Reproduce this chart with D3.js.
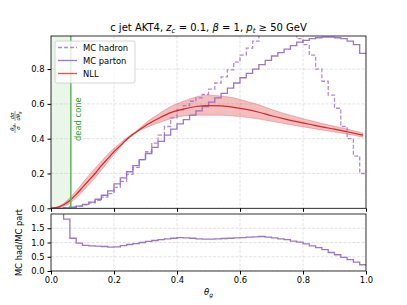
<!DOCTYPE html>
<html>
<head>
<meta charset="utf-8">
<script src="https://cdn.jsdelivr.net/npm/d3@7"></script>
<style>
  body { margin: 0; background: #fff; }
  svg { font-family: "DejaVu Sans", sans-serif; }
</style>
</head>
<body>
<div id="chart"></div>
<script>
// bin lower edges (width 0.02)
var binEdges = [0.00, 0.02, 0.04, 0.06, 0.08, 0.10, 0.12, 0.14, 0.16, 0.18,
                0.20, 0.22, 0.24, 0.26, 0.28, 0.30, 0.32, 0.34, 0.36, 0.38,
                0.40, 0.42, 0.44, 0.46, 0.48, 0.50, 0.52, 0.54, 0.56, 0.58,
                0.60, 0.62, 0.64, 0.66, 0.68, 0.70, 0.72, 0.74, 0.76, 0.78,
                0.80, 0.82, 0.84, 0.86, 0.88, 0.90, 0.92, 0.94, 0.96, 0.98];
var binEnd = 1.0;

var mcHadron = [0.000, 0.001, 0.004, 0.007, 0.012, 0.020, 0.031, 0.045, 0.064, 0.084,
                0.120, 0.155, 0.195, 0.235, 0.280, 0.325, 0.375, 0.420, 0.470, 0.520,
                0.565, 0.590, 0.615, 0.635, 0.655, 0.685, 0.720, 0.755, 0.795, 0.840,
                0.880, 0.920, 0.960, 1.000, 1.010, 1.020, 1.010, 1.010, 1.000, 0.975,
                0.940, 0.880, 0.800, 0.730, 0.650, 0.575, 0.470, 0.400, 0.300, 0.200];

var mcParton = [0.000, 0.000, 0.002, 0.006, 0.012, 0.022, 0.035, 0.052, 0.075, 0.100,
                0.140, 0.175, 0.210, 0.245, 0.280, 0.315, 0.350, 0.385, 0.420, 0.455,
                0.485, 0.510, 0.535, 0.560, 0.585, 0.610, 0.635, 0.660, 0.690, 0.720,
                0.750, 0.775, 0.800, 0.825, 0.850, 0.875, 0.895, 0.915, 0.935, 0.955,
                0.965, 0.975, 0.980, 0.983, 0.983, 0.980, 0.975, 0.960, 0.940, 0.890];

var ratio = [null, 5.00, 1.82, 1.15, 0.98, 0.90, 0.88, 0.87, 0.86, 0.84,
             0.85, 0.89, 0.93, 0.96, 1.00, 1.04, 1.07, 1.10, 1.13, 1.15,
             1.17, 1.16, 1.15, 1.13, 1.12, 1.12, 1.13, 1.14, 1.15, 1.16,
             1.17, 1.19, 1.20, 1.21, 1.19, 1.16, 1.13, 1.10, 1.05, 1.01,
             0.95, 0.88, 0.82, 0.75, 0.65, 0.57, 0.48, 0.40, 0.31, 0.22];

var nllTheta   = [0.00, 0.02, 0.04, 0.06, 0.08, 0.10, 0.12, 0.14, 0.16, 0.18, 0.20, 0.22, 0.24, 0.26, 0.28,
                  0.30, 0.34, 0.38, 0.42, 0.46, 0.50, 0.54, 0.58, 0.62, 0.66, 0.70, 0.74, 0.78, 0.82,
                  0.86, 0.90, 0.94, 0.99];
var nllCentral = [0.000, 0.005, 0.020, 0.045, 0.080, 0.120, 0.160, 0.200, 0.245, 0.285, 0.325, 0.360, 0.395, 0.425, 0.450,
                  0.475, 0.515, 0.550, 0.570, 0.585, 0.590, 0.588, 0.580, 0.568, 0.552, 0.532, 0.514, 0.498, 0.483,
                  0.468, 0.455, 0.440, 0.420];
var nllLow     = [0.000, 0.003, 0.012, 0.030, 0.060, 0.095, 0.135, 0.175, 0.220, 0.265, 0.310, 0.350, 0.390, 0.420, 0.445,
                  0.462, 0.490, 0.515, 0.530, 0.535, 0.535, 0.535, 0.530, 0.523, 0.513, 0.500, 0.487, 0.474, 0.462,
                  0.450, 0.438, 0.427, 0.408];
var nllHigh    = [0.000, 0.008, 0.028, 0.060, 0.100, 0.145, 0.190, 0.230, 0.270, 0.310, 0.345, 0.375, 0.405, 0.430, 0.458,
                  0.490, 0.540, 0.585, 0.615, 0.640, 0.650, 0.645, 0.635, 0.615, 0.595, 0.568, 0.545, 0.525, 0.506,
                  0.488, 0.472, 0.455, 0.433];

var deadCone = 0.063;

var xTicks = [0.0, 0.2, 0.4, 0.6, 0.8, 1.0];
var mainYTicks = [0.0, 0.2, 0.4, 0.6, 0.8];
var ratioYTicks = [0.0, 0.5, 1.0, 1.5];

var purple = "#9467bd", red = "#d62728", green = "#5cb85c";

// layout
var W = 407, H = 305;
var left = 51, right = 366;
var mainTop = 36, mainBottom = 208.3;
var ratioTop = 214, ratioBottom = 271;

var svg = d3.select("#chart").append("svg")
    .attr("width", W).attr("height", H);

var x = d3.scaleLinear().domain([0, 1]).range([left, right]);
var y = d3.scaleLinear().domain([0, 0.99]).range([mainBottom, mainTop]);
var yr = d3.scaleLinear().domain([0, 2.0]).range([ratioBottom, ratioTop]);

var defs = svg.append("defs");
defs.append("clipPath").attr("id", "clipMain").append("rect")
    .attr("x", left).attr("y", mainTop).attr("width", right - left).attr("height", mainBottom - mainTop);
defs.append("clipPath").attr("id", "clipRatio").append("rect")
    .attr("x", left).attr("y", ratioTop).attr("width", right - left).attr("height", ratioBottom - ratioTop);

// step line helper
function stepPts(vals) {
  var pts = binEdges.map(function(e, i) { return [e, vals[i]]; });
  pts.push([binEnd, vals[vals.length - 1]]);
  return pts;
}

// ---------- main panel ----------
var gMain = svg.append("g");
var plotMain = gMain.append("g").attr("clip-path", "url(#clipMain)");

// dead cone shading
plotMain.append("rect")
    .attr("x", x(0)).attr("y", mainTop)
    .attr("width", x(deadCone) - x(0)).attr("height", mainBottom - mainTop)
    .attr("fill", green).attr("fill-opacity", 0.13);

// grid
plotMain.selectAll(".gx").data(xTicks).enter().append("line")
    .attr("x1", function(d) { return x(d); }).attr("x2", function(d) { return x(d); })
    .attr("y1", mainTop).attr("y2", mainBottom)
    .attr("stroke", "#b0b0b0").attr("stroke-opacity", 0.45).attr("stroke-width", 0.8)
    .attr("stroke-dasharray", "3,1.5");
plotMain.selectAll(".gy").data(mainYTicks).enter().append("line")
    .attr("x1", left).attr("x2", right)
    .attr("y1", function(d) { return y(d); }).attr("y2", function(d) { return y(d); })
    .attr("stroke", "#b0b0b0").attr("stroke-opacity", 0.45).attr("stroke-width", 0.8)
    .attr("stroke-dasharray", "3,1.5");

// NLL band
var band = nllTheta.map(function(t, i) { return { t: t, lo: nllLow[i], hi: nllHigh[i], c: nllCentral[i] }; });
plotMain.append("path").datum(band)
    .attr("d", d3.area().curve(d3.curveMonotoneX)
      .x(function(d) { return x(d.t); })
      .y0(function(d) { return y(d.lo); })
      .y1(function(d) { return y(d.hi); }))
    .attr("fill", red).attr("fill-opacity", 0.3)
    .attr("stroke", red).attr("stroke-opacity", 0.35).attr("stroke-width", 0.8);

// histograms
var stepLine = d3.line().curve(d3.curveStepAfter)
    .defined(function(d) { return d[1] != null; })
    .x(function(d) { return x(d[0]); });

plotMain.append("path").datum(stepPts(mcParton))
    .attr("d", stepLine.y(function(d) { return y(d[1]); }))
    .attr("fill", "none").attr("stroke", purple).attr("stroke-width", 1.3).attr("stroke-opacity", 0.9);
plotMain.append("path").datum(stepPts(mcHadron))
    .attr("d", stepLine.y(function(d) { return y(d[1]); }))
    .attr("fill", "none").attr("stroke", purple).attr("stroke-width", 1.3).attr("stroke-opacity", 0.75)
    .attr("stroke-dasharray", "4,2");

// NLL central
plotMain.append("path").datum(band)
    .attr("d", d3.line().curve(d3.curveMonotoneX)
      .x(function(d) { return x(d.t); })
      .y(function(d) { return y(d.c); }))
    .attr("fill", "none").attr("stroke", red).attr("stroke-width", 1.2);

// dead cone line
plotMain.append("line")
    .attr("x1", x(deadCone)).attr("x2", x(deadCone))
    .attr("y1", mainTop).attr("y2", mainBottom)
    .attr("stroke", green).attr("stroke-width", 1.5);
plotMain.append("text")
    .attr("transform", "translate(" + (x(deadCone) + 10) + ",141) rotate(-90)")
    .attr("font-size", 8.4).attr("fill", "#2ca02c")
    .text("dead cone");

// frame
gMain.append("rect")
    .attr("x", left).attr("y", mainTop).attr("width", right - left).attr("height", mainBottom - mainTop)
    .attr("fill", "none").attr("stroke", "#000").attr("stroke-width", 0.8);

// axes
gMain.append("g").attr("transform", "translate(0," + mainBottom + ")")
    .call(d3.axisBottom(x).tickValues(xTicks).tickSize(3.5).tickFormat(""))
    .call(function(g) { g.select(".domain").remove(); });
gMain.append("g").attr("transform", "translate(" + left + ",0)")
    .call(d3.axisLeft(y).tickValues(mainYTicks).tickSize(3.5).tickPadding(3).tickFormat(d3.format(".1f")))
    .call(function(g) {
      g.select(".domain").remove();
      g.selectAll("text").attr("font-size", 8.4).attr("font-family", "DejaVu Sans").attr("fill", "#000");
    });

// main y label: theta_g/sigma dsigma/dtheta_g
var yl = gMain.append("g").attr("transform", "translate(15,122) rotate(-90)")
    .attr("font-size", 5.2).attr("fill", "#000");
function frac(g, cx, num, den) {
  var n = g.append("text").attr("x", cx).attr("y", -1.5).attr("text-anchor", "middle");
  num(n);
  g.append("line").attr("x1", cx - 5).attr("x2", cx + 5).attr("y1", 0).attr("y2", 0)
      .attr("stroke", "#000").attr("stroke-width", 0.4);
  var d = g.append("text").attr("x", cx).attr("y", 5).attr("text-anchor", "middle");
  den(d);
}
frac(yl, -6, function(t) {
  t.append("tspan").attr("font-style", "italic").text("θ");
  t.append("tspan").attr("font-style", "italic").attr("font-size", 3.8).attr("dy", 1).text("g");
}, function(t) { t.append("tspan").attr("font-style", "italic").text("σ"); });
frac(yl, 6, function(t) {
  t.append("tspan").attr("font-style", "italic").text("dσ");
}, function(t) {
  t.append("tspan").attr("font-style", "italic").text("dθ");
  t.append("tspan").attr("font-style", "italic").attr("font-size", 3.8).attr("dy", 1).text("g");
});

// title
var title = svg.append("text").attr("x", (left + right) / 2).attr("y", 31)
    .attr("text-anchor", "middle").attr("font-size", 10).attr("fill", "#000");
title.append("tspan").text("c jet AKT4, ");
title.append("tspan").attr("font-style", "italic").text("z");
title.append("tspan").attr("font-style", "italic").attr("font-size", 7).attr("dy", 2).text("c");
title.append("tspan").attr("dy", -2).text(" = 0.1, ");
title.append("tspan").attr("font-style", "italic").text("β");
title.append("tspan").text(" = 1, ");
title.append("tspan").attr("font-style", "italic").text("p");
title.append("tspan").attr("font-style", "italic").attr("font-size", 7).attr("dy", 2).text("t");
title.append("tspan").attr("dy", -2).text(" ≥ 50 GeV");

// legend
var leg = gMain.append("g");
leg.append("rect").attr("x", 55).attr("y", 41).attr("width", 80).attr("height", 42).attr("rx", 2)
    .attr("fill", "#fff").attr("fill-opacity", 0.8).attr("stroke", "#ccc").attr("stroke-width", 0.8);
var legItems = [
  { label: "MC hadron", color: purple, dash: "4,2", op: 0.75 },
  { label: "MC parton", color: purple, dash: null, op: 0.9 },
  { label: "NLL", color: red, dash: null, op: 0.8 }
];
legItems.forEach(function(it, i) {
  var yy = 47.5 + i * 13;
  leg.append("line").attr("x1", 58).attr("x2", 77).attr("y1", yy).attr("y2", yy)
      .attr("stroke", it.color).attr("stroke-width", 1.3).attr("stroke-opacity", it.op)
      .attr("stroke-dasharray", it.dash);
  leg.append("text").attr("x", 83).attr("y", yy + 3).attr("font-size", 8.4).attr("fill", "#000")
      .text(it.label);
});

// ---------- ratio panel ----------
var gRatio = svg.append("g");
var plotRatio = gRatio.append("g").attr("clip-path", "url(#clipRatio)");

plotRatio.selectAll(".gx").data(xTicks).enter().append("line")
    .attr("x1", function(d) { return x(d); }).attr("x2", function(d) { return x(d); })
    .attr("y1", ratioTop).attr("y2", ratioBottom)
    .attr("stroke", "#b0b0b0").attr("stroke-opacity", 0.45).attr("stroke-width", 0.8)
    .attr("stroke-dasharray", "3,1.5");
plotRatio.selectAll(".gy").data(ratioYTicks).enter().append("line")
    .attr("x1", left).attr("x2", right)
    .attr("y1", function(d) { return yr(d); }).attr("y2", function(d) { return yr(d); })
    .attr("stroke", "#b0b0b0").attr("stroke-opacity", 0.45).attr("stroke-width", 0.8)
    .attr("stroke-dasharray", "3,1.5");

plotRatio.append("path").datum(stepPts(ratio))
    .attr("d", stepLine.y(function(d) { return yr(d[1]); }))
    .attr("fill", "none").attr("stroke", purple).attr("stroke-width", 1.3).attr("stroke-opacity", 0.9);

gRatio.append("rect")
    .attr("x", left).attr("y", ratioTop).attr("width", right - left).attr("height", ratioBottom - ratioTop)
    .attr("fill", "none").attr("stroke", "#000").attr("stroke-width", 0.8);

gRatio.append("g").attr("transform", "translate(0," + ratioBottom + ")")
    .call(d3.axisBottom(x).tickValues(xTicks).tickSize(3.5).tickPadding(3).tickFormat(d3.format(".1f")))
    .call(function(g) {
      g.select(".domain").remove();
      g.selectAll("text").attr("font-size", 8.4).attr("font-family", "DejaVu Sans").attr("fill", "#000");
    });
gRatio.append("g").attr("transform", "translate(" + left + ",0)")
    .call(d3.axisLeft(yr).tickValues(ratioYTicks).tickSize(3.5).tickPadding(3).tickFormat(d3.format(".1f")))
    .call(function(g) {
      g.select(".domain").remove();
      g.selectAll("text").attr("font-size", 8.4).attr("font-family", "DejaVu Sans").attr("fill", "#000");
    });

svg.append("text")
    .attr("transform", "translate(22," + ((ratioTop + ratioBottom) / 2) + ") rotate(-90)")
    .attr("text-anchor", "middle").attr("font-size", 8.4).attr("fill", "#000")
    .text("MC had/MC part");

var xl = svg.append("text").attr("x", (left + right) / 2).attr("y", 295)
    .attr("text-anchor", "middle").attr("font-size", 8.4).attr("fill", "#000");
xl.append("tspan").attr("font-style", "italic").text("θ");
xl.append("tspan").attr("font-style", "italic").attr("font-size", 6).attr("dy", 2).text("g");
</script>
</body>
</html>
